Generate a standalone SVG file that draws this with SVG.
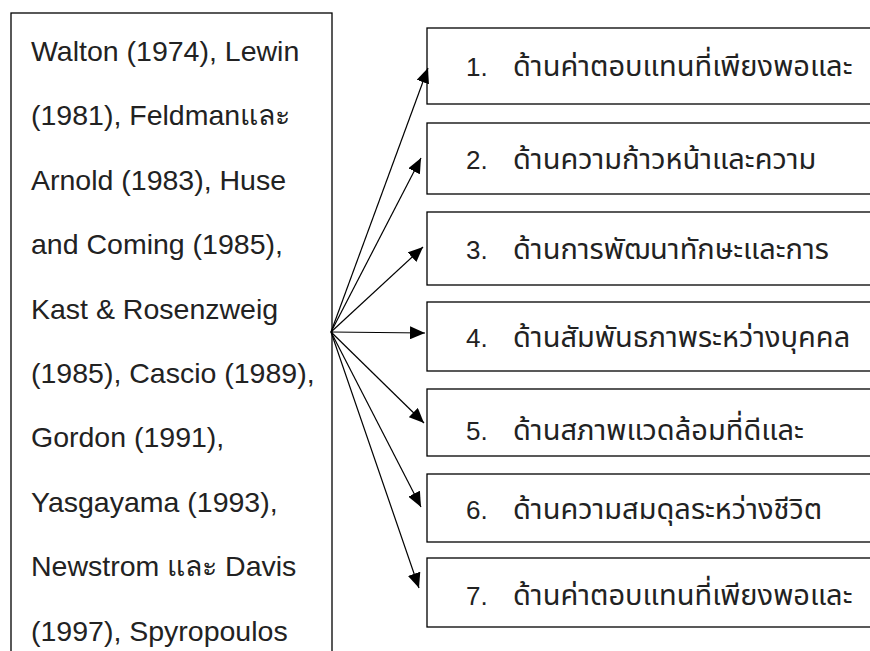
<svg xmlns="http://www.w3.org/2000/svg" width="870" height="651" viewBox="0 0 870 651">
<style>
.box{fill:#fff;stroke:#000;stroke-width:1.3}
.lt{font-family:"Liberation Sans","Noto Sans",sans-serif;font-size:28.5px;fill:#222}
.num{font-family:"Liberation Sans","Noto Sans",sans-serif;font-size:26px;fill:#222}
.th{font-family:"Noto Sans Thai","Noto Sans","Liberation Sans",sans-serif;font-size:29px;fill:#222}
.ar{stroke:#000;stroke-width:1.2;fill:none;marker-end:url(#ah)}
</style>
<defs>
<marker id="ah" markerUnits="userSpaceOnUse" markerWidth="17" markerHeight="13" refX="15" refY="6.5" orient="auto">
<path d="M0,0 L15,6.5 L0,13 Z" fill="#000"/>
</marker>
</defs>
<rect width="870" height="651" fill="#fff"/>
<g id="sources">
<rect class="box" x="11" y="13" width="321" height="660"/>
<text class="lt" x="31" y="61">Walton (1974), Lewin</text>
<text class="lt" x="31" y="125">(1981), Feldmanและ</text>
<text class="lt" x="31" y="190">Arnold (1983), Huse</text>
<text class="lt" x="31" y="254">and Coming (1985),</text>
<text class="lt" x="31" y="319">Kast &amp; Rosenzweig</text>
<text class="lt" x="31" y="383">(1985), Cascio (1989),</text>
<text class="lt" x="31" y="447">Gordon (1991),</text>
<text class="lt" x="31" y="512">Yasgayama (1993),</text>
<text class="lt" x="31" y="576">Newstrom และ Davis</text>
<text class="lt" x="31" y="641">(1997), Spyropoulos</text>
</g>
<g id="n1"><rect class="box" x="427" y="28" width="460" height="76"/><text class="num" x="466" y="76">1.</text><text class="th" x="513" y="76">ด้านค่าตอบแทนที่เพียงพอและ</text></g>
<g id="n2"><rect class="box" x="427" y="123" width="460" height="71"/><text class="num" x="466" y="169">2.</text><text class="th" x="513" y="169">ด้านความก้าวหน้าและความ</text></g>
<g id="n3"><rect class="box" x="427" y="212" width="460" height="73"/><text class="num" x="466" y="259">3.</text><text class="th" x="513" y="259">ด้านการพัฒนาทักษะและการ</text></g>
<g id="n4"><rect class="box" x="427" y="302" width="460" height="69"/><text class="num" x="466" y="347">4.</text><text class="th" x="513" y="347">ด้านสัมพันธภาพระหว่างบุคคล</text></g>
<g id="n5"><rect class="box" x="427" y="389" width="460" height="67"/><text class="num" x="466" y="440">5.</text><text class="th" x="513" y="440">ด้านสภาพแวดล้อมที่ดีและ</text></g>
<g id="n6"><rect class="box" x="427" y="474" width="460" height="68"/><text class="num" x="466" y="519">6.</text><text class="th" x="513" y="519">ด้านความสมดุลระหว่างชีวิต</text></g>
<g id="n7"><rect class="box" x="427" y="558" width="460" height="69"/><text class="num" x="466" y="605">7.</text><text class="th" x="513" y="605">ด้านค่าตอบแทนที่เพียงพอและ</text></g>
<g id="connectors">
<line class="ar" x1="331" y1="332" x2="428" y2="68"/>
<line class="ar" x1="331" y1="332" x2="421" y2="158"/>
<line class="ar" x1="331" y1="332" x2="423" y2="247"/>
<line class="ar" x1="331" y1="332" x2="425" y2="333"/>
<line class="ar" x1="331" y1="332" x2="424" y2="423"/>
<line class="ar" x1="331" y1="332" x2="421" y2="507"/>
<line class="ar" x1="331" y1="332" x2="419" y2="588"/>
</g>
</svg>
